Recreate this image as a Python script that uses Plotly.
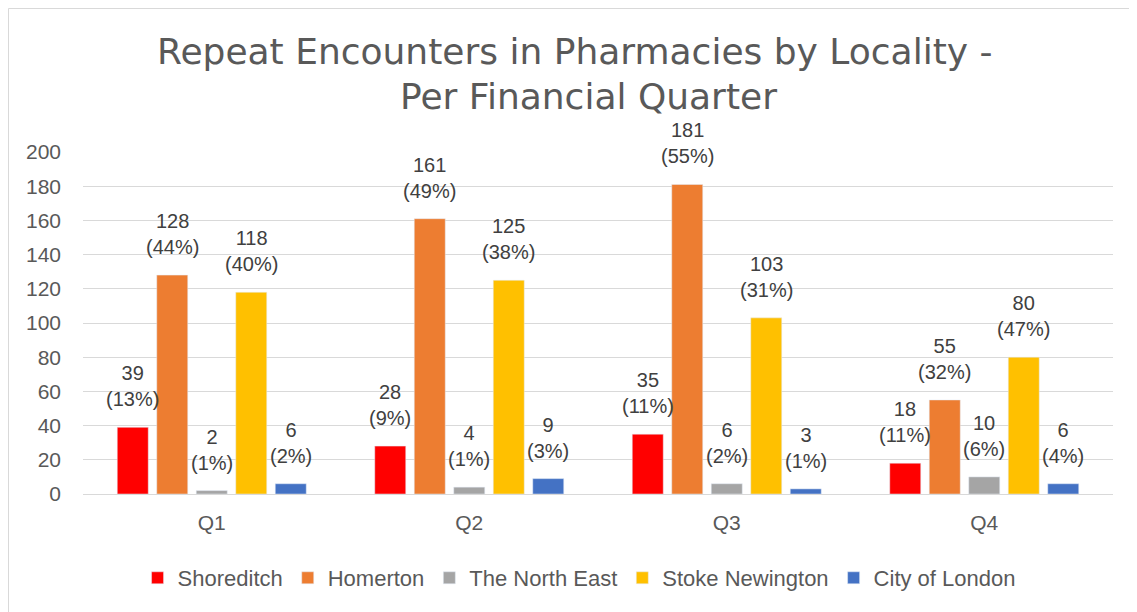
import plotly.graph_objects as go

quarters = ["Q1", "Q2", "Q3", "Q4"]
localities = ["Shoreditch", "Homerton", "The North East", "Stoke Newington", "City of London"]
colors = ["#FF0000", "#ED7D31", "#A5A5A5", "#FFC000", "#4472C4"]
values = {
    "Shoreditch": [39, 28, 35, 18],
    "Homerton": [128, 161, 181, 55],
    "The North East": [2, 4, 6, 10],
    "Stoke Newington": [118, 125, 103, 80],
    "City of London": [6, 9, 3, 6],
}
percents = {
    "Shoreditch": [13, 9, 11, 11],
    "Homerton": [44, 49, 55, 32],
    "The North East": [1, 1, 2, 6],
    "Stoke Newington": [40, 38, 31, 47],
    "City of London": [2, 3, 1, 4],
}
title_lines = ["Repeat Encounters in Pharmacies by Locality -", "Per Financial Quarter"]

W, H = 1129, 604
ML, MR, MT, MB = 75, 24, 144, 118
BARGAP, GROUPGAP = 0.233, 0.215
plot_w = W - ML - MR
plot_h = H - MT - MB
slot = plot_w / len(quarters) * (1 - BARGAP) / len(localities)

fig = go.Figure()
annotations = []
n = len(localities)
for i, (name, col) in enumerate(zip(localities, colors)):
    fig.add_trace(go.Bar(
        x=quarters, y=values[name], name=name, marker_color=col,
    ))
    for q, v, p in zip(quarters, values[name], percents[name]):
        annotations.append(dict(
            x=q, y=v, xref="x", yref="y", text=f"{v}<br>({p}%)",
            showarrow=False, yanchor="bottom", xanchor="center",
            xshift=(i - (n - 1) / 2) * slot, yshift=15,
            font=dict(size=20, color="#404040", family="Liberation Sans"),
        ))

# title, two centred lines (as in the original wrapping)
for line, xc, ytop in zip(title_lines, [0.478, 0.4908], [1.36, 1.36 - 45 / plot_h]):
    annotations.append(dict(
        text=line, xref="paper", yref="paper", x=xc, xanchor="center",
        y=ytop, yanchor="top", showarrow=False,
        font=dict(size=36, color="#595959", family="DejaVu Sans")))

fig.update_layout(
    width=W, height=H,
    barmode="group", bargap=BARGAP, bargroupgap=GROUPGAP,
    plot_bgcolor="white", paper_bgcolor="white",
    margin=dict(l=ML, r=MR, t=MT, b=MB, autoexpand=False),
    font=dict(family="Liberation Sans", color="#595959", size=21),
    yaxis=dict(range=[0, 200], dtick=20, gridcolor="#D9D9D9", gridwidth=1,
               zeroline=True, zerolinecolor="#D9D9D9", zerolinewidth=1,
               tickfont=dict(size=21, color="#595959"), ticks="",
               ticklabelstandoff=21, automargin=False),
    xaxis=dict(tickfont=dict(size=21, color="#595959"), showline=False,
               ticklabelstandoff=14, automargin=False),
    legend=dict(orientation="h", x=0.4816, xanchor="center", y=-0.2456, yanchor="middle",
                font=dict(size=22, color="#595959"), itemwidth=30),
    annotations=annotations,
    shapes=[dict(type="rect", xref="paper", yref="paper",
                 x0=(0.5 - ML) / plot_w, x1=1.2, y0=-0.5, y1=(plot_h + MT - 0.5) / plot_h,
                 line=dict(color="#D9D9D9", width=1), fillcolor="rgba(0,0,0,0)", layer="below")],
)

fig.write_html("out.html")
